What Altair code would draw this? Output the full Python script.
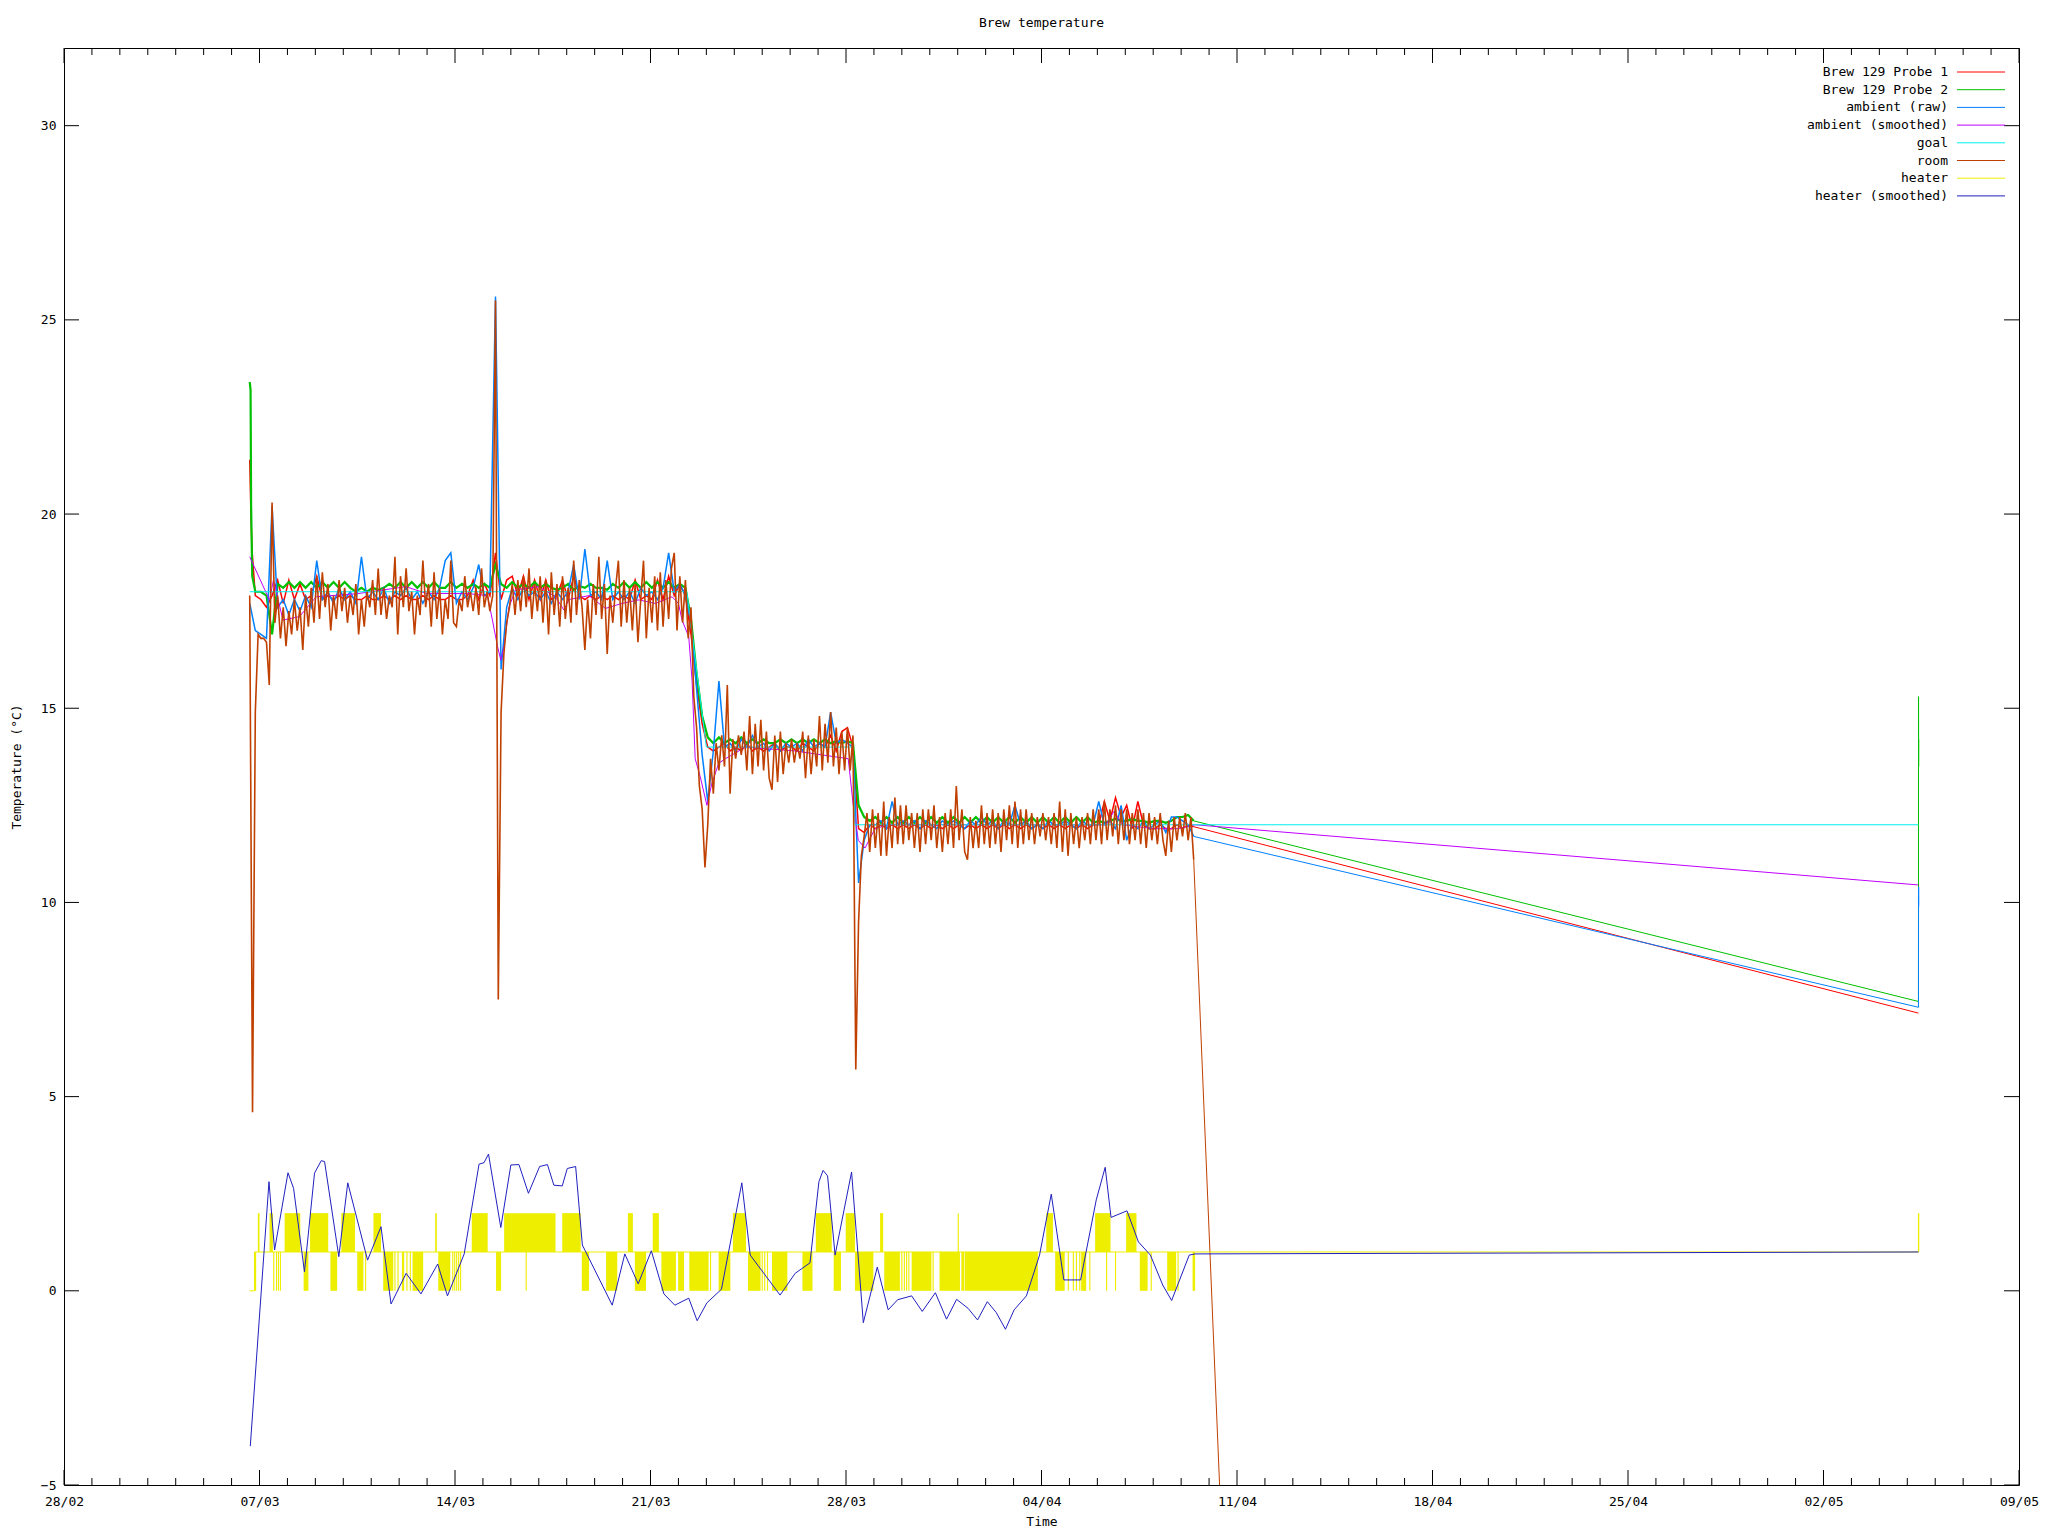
import altair as alt
import pandas as pd
import numpy as np

BASE = pd.Timestamp("2014-02-28")
W, H = 1955, 1437
FONT = "DejaVu Sans Mono"

# ---------------- data (day offsets from 28/02) ----------------
room_start, room_step = 6.65, 0.1
room_by_day = [
    [17.9, 4.6, 14.9, 16.9],
    [16.8, 16.8, 16.7, 15.6, 20.3, 17.2, 17.9, 16.8, 17.6, 16.6],
    [17.5, 16.9, 17.8, 17.0, 17.6, 16.5, 17.9, 17.1, 18.1, 17.2],
    [18.4, 17.3, 18.5, 17.6, 18.2, 17.0, 17.9, 17.3, 18.3, 17.5],
    [18.1, 17.2, 17.9, 17.4, 18.2, 16.9, 17.8, 17.1, 18.0, 17.6],
    [18.3, 17.4, 18.6, 17.4, 18.1, 17.3, 17.9, 17.6, 18.9, 16.9],
    [18.4, 17.6, 18.6, 17.5, 18.0, 16.9, 17.9, 17.4, 18.8, 17.6],
    [18.2, 17.1, 18.5, 17.3, 18.1, 16.9, 17.8, 17.3, 18.8, 17.2],
    [17.1, 17.8, 17.5, 18.4, 17.6, 18.0, 17.5, 18.1, 17.4, 18.6],
    [17.6, 18.0, 17.5, 17.9, 25.5, 7.5, 14.9, 16.4, 17.2, 17.6],
    [18.2, 17.4, 18.3, 17.5, 18.4, 17.6, 18.6, 17.3, 18.2, 17.5],
    [18.4, 17.2, 18.3, 16.9, 18.5, 17.4, 18.2, 17.1, 18.4, 17.3],
    [18.1, 17.2, 18.8, 17.4, 18.3, 17.6, 16.5, 17.8, 16.8, 18.2],
    [17.4, 18.9, 17.3, 18.2, 16.4, 17.9, 17.2, 18.1, 18.8, 17.1],
    [18.3, 17.2, 18.1, 17.0, 18.2, 16.7, 17.8, 18.8, 16.8, 18.1],
    [17.2, 18.4, 17.0, 18.5, 17.1, 18.3, 17.3, 18.6, 19.0, 17.0],
    [18.4, 17.2, 18.3, 16.8, 17.6, 15.3, 14.5, 13.0, 12.4, 10.9],
    [12.0, 13.7, 12.8, 14.1, 13.4, 14.3, 13.5, 15.6, 12.8, 14.2],
    [13.7, 14.3, 13.8, 14.4, 13.4, 14.8, 13.3, 14.6, 13.5, 14.7],
    [13.4, 14.4, 13.2, 12.9, 14.3, 13.1, 14.4, 13.3, 14.1, 13.6],
    [14.2, 13.6, 14.1, 13.7, 14.4, 13.2, 14.3, 13.3, 14.2, 13.5],
    [14.8, 13.4, 14.6, 13.6, 14.9, 13.5, 14.5, 13.3, 14.4, 13.4],
    [14.5, 13.4, 14.3, 5.7, 9.5, 11.2, 11.7, 12.3, 11.3, 12.4],
    [11.4, 12.3, 11.2, 12.6, 11.2, 12.2, 11.4, 12.7, 11.5, 12.5],
    [11.5, 12.5, 11.6, 12.3, 11.4, 12.3, 11.3, 12.4, 11.5, 12.4],
    [11.6, 12.5, 11.4, 12.2, 11.3, 12.3, 11.5, 12.4, 11.4, 13.0],
    [11.6, 12.4, 11.3, 11.1, 12.2, 11.4, 12.1, 11.4, 12.5, 11.5],
    [12.3, 11.4, 12.4, 11.5, 12.3, 11.3, 12.4, 11.6, 12.5, 11.5],
    [12.6, 11.4, 12.4, 11.5, 12.4, 11.6, 12.3, 11.5, 12.2, 11.7],
    [12.3, 11.6, 12.2, 11.5, 12.3, 11.4, 12.6, 11.3, 12.4, 11.2],
    [12.3, 11.5, 12.2, 11.4, 12.2, 11.6, 12.3, 11.5, 12.4, 11.6],
    [12.4, 11.5, 12.6, 11.6, 12.4, 11.7, 12.5, 11.5, 12.4, 11.6],
    [12.4, 11.5, 12.3, 11.6, 12.4, 11.5, 12.3, 11.4, 12.3, 11.6],
    [12.2, 11.5, 12.3, 11.6, 11.2, 12.1, 11.3, 12.2, 11.6, 12.2],
    [11.7, 12.3, 11.6, 12.2, 11.1],
]
room_tail_days = [66.4]
room_tail_vals = [-440.0]

# probes: a few head points, then a 0.2-day grid from 6.85
probe_start, probe_step = 6.85, 0.2
probe1_head_days = [6.65, 6.69, 6.73]
probe1_head_vals = [21.4, 20.1, 19.1]
probe1_by_day = [
    [17.9],
    [17.8, 17.6, 17.9, 18.3, 17.7],
    [18.3, 17.8, 18.2, 17.8, 17.9],
    [18.4, 17.8, 17.9, 17.8, 17.9],
    [17.8, 17.9, 17.8, 17.8, 17.9],
    [17.8, 17.8, 17.9, 17.8, 17.9],
    [17.8, 17.9, 17.8, 17.8, 17.9],
    [17.8, 17.9, 17.8, 17.8, 17.9],
    [17.8, 17.8, 17.9, 18.3, 17.8],
    [18.2, 17.9, 19.0, 17.8, 18.3],
    [18.4, 17.9, 18.4, 17.8, 18.3],
    [17.8, 18.3, 17.8, 17.9, 18.3],
    [17.8, 18.4, 17.9, 17.8, 17.9],
    [17.8, 17.9, 17.8, 17.9, 17.8],
    [17.9, 17.8, 18.3, 17.8, 17.9],
    [17.8, 18.3, 17.8, 18.4, 17.9],
    [18.2, 17.9, 16.9, 15.6, 14.6],
    [14.0, 13.9, 14.0, 14.1, 13.9],
    [14.0, 13.9, 14.1, 13.9, 14.0],
    [13.9, 14.0, 14.1, 13.9, 14.0],
    [14.0, 13.9, 14.1, 14.0, 13.9],
    [14.1, 14.0, 14.3, 13.9, 14.4],
    [14.5, 14.0, 11.9, 11.8, 12.0],
    [11.9, 12.0, 11.9, 12.0, 11.9],
    [12.0, 11.9, 12.0, 11.9, 12.0],
    [11.9, 12.0, 11.9, 12.0, 11.9],
    [12.0, 11.9, 12.0, 11.9, 12.0],
    [11.9, 12.0, 11.9, 12.0, 11.9],
    [12.0, 11.9, 12.0, 11.9, 12.0],
    [11.9, 12.0, 11.9, 12.0, 11.9],
    [12.0, 11.9, 12.0, 11.9, 12.0],
    [12.0, 12.6, 12.1, 12.7, 12.2],
    [12.5, 11.9, 12.6, 12.0, 11.9],
    [11.9, 12.0, 11.9, 11.9, 12.0],
    [11.9, 12.0, 11.95],
]
probe1_tail_days = [66.4]
probe1_tail_vals = [7.15]

probe2_head_days = [6.65, 6.68, 6.70, 6.74]
probe2_head_vals = [23.4, 23.2, 20.2, 18.4]
probe2_by_day = [
    [18.0],
    [18.0, 17.9, 16.9, 18.2, 18.1],
    [18.25, 18.1, 18.25, 18.1, 18.25],
    [18.1, 18.25, 18.1, 18.25, 18.1],
    [18.25, 18.1, 18.0, 18.1, 18.0],
    [18.1, 18.05, 18.1, 18.2, 18.1],
    [18.25, 18.1, 18.25, 18.1, 18.25],
    [18.1, 18.25, 18.1, 18.1, 18.25],
    [18.1, 18.2, 18.1, 18.2, 18.1],
    [18.2, 18.1, 18.7, 18.2, 18.1],
    [18.25, 18.1, 18.2, 18.1, 18.25],
    [18.1, 18.2, 18.1, 18.05, 18.1],
    [18.2, 18.05, 18.15, 18.1, 18.2],
    [18.1, 18.1, 18.05, 18.2, 18.1],
    [18.25, 18.1, 18.25, 18.1, 18.25],
    [18.1, 18.25, 18.1, 18.25, 18.1],
    [18.2, 18.1, 17.3, 15.9, 14.8],
    [14.25, 14.1, 14.25, 14.1, 14.2],
    [14.1, 14.25, 14.1, 14.2, 14.1],
    [14.2, 14.1, 14.1, 14.2, 14.1],
    [14.2, 14.1, 14.2, 14.1, 14.2],
    [14.1, 14.2, 14.1, 14.15, 14.1],
    [14.15, 14.1, 12.5, 12.2, 12.1],
    [12.2, 12.05, 12.2, 12.05, 12.2],
    [12.05, 12.2, 12.05, 12.2, 12.05],
    [12.2, 12.05, 12.2, 12.05, 12.2],
    [12.05, 12.2, 12.05, 12.2, 12.05],
    [12.2, 12.05, 12.2, 12.05, 12.2],
    [12.05, 12.2, 12.05, 12.2, 12.05],
    [12.2, 12.05, 12.2, 12.05, 12.2],
    [12.05, 12.2, 12.05, 12.2, 12.05],
    [12.1, 12.05, 12.1, 12.15, 12.1],
    [12.1, 12.15, 12.1, 12.1, 12.05],
    [12.1, 12.1, 12.05, 12.1, 12.2],
    [12.2, 12.25, 12.1],
]
probe2_tail_days = [66.4, 66.403, 66.406, 66.41]
probe2_tail_vals = [7.45, 15.3, 13.5, 14.2]

amb_start, amb_step = 6.65, 0.2
amb_by_day = [
    [17.7, 17.0],
    [16.9, 16.8, 20.2, 17.6, 17.8],
    [17.4, 17.8, 17.5, 17.9, 17.6],
    [18.8, 17.8, 18.0, 17.7, 18.1],
    [17.8, 18.0, 17.7, 18.9, 17.8],
    [18.0, 17.8, 18.1, 17.7, 18.0],
    [17.9, 18.1, 17.8, 18.0, 17.7],
    [18.0, 17.8, 18.1, 18.8, 19.0],
    [17.7, 18.0, 17.8, 18.1, 18.7],
    [17.9, 18.0, 25.6, 16.0, 17.6],
    [18.1, 17.8, 18.1, 17.9, 18.0],
    [17.8, 18.0, 17.7, 18.0, 17.8],
    [18.0, 18.7, 17.8, 19.1, 17.9],
    [18.0, 17.8, 18.8, 17.8, 18.0],
    [17.8, 18.0, 17.7, 18.1, 17.9],
    [18.0, 17.8, 18.1, 19.0, 18.0],
    [18.2, 17.9, 17.2, 15.5, 13.8],
    [12.6, 13.9, 15.7, 14.0, 14.1],
    [13.9, 14.2, 14.0, 14.3, 14.0],
    [14.1, 13.9, 14.1, 13.9, 14.1],
    [14.0, 14.1, 13.9, 14.2, 14.0],
    [14.1, 14.0, 14.9, 14.1, 14.2],
    [14.1, 14.0, 10.5, 11.6, 12.0],
    [12.0, 12.1, 11.9, 12.6, 12.0],
    [12.1, 12.0, 12.1, 11.9, 12.1],
    [12.0, 11.9, 12.1, 12.0, 12.1],
    [12.0, 11.9, 12.1, 12.0, 12.2],
    [12.0, 12.1, 11.9, 12.1, 12.0],
    [12.5, 12.0, 12.1, 11.9, 12.0],
    [11.9, 12.1, 12.0, 12.0, 12.1],
    [12.0, 11.9, 12.1, 12.0, 12.0],
    [12.6, 12.0, 12.1, 11.9, 12.5],
    [11.6, 12.0, 11.9, 12.1, 11.9],
    [12.0, 12.1, 11.8, 12.2, 12.2],
    [12.1, 12.0, 11.7],
]
amb_tail_days = [66.4, 66.403, 66.406, 66.41]
amb_tail_vals = [7.3, 9.5, 10.4, 9.9]

smooth_days = [6.65, 7.36, 7.5, 7.84, 8.43, 9.03, 10.5, 12.24, 12.96, 14.5, 15.16, 15.34, 15.52,
               15.64, 15.76, 15.93, 16.17, 17.0, 17.6, 17.9, 18.08, 18.8, 19.15, 19.39, 19.98,
               20.58, 21.17, 21.77, 22.0, 22.13, 22.37, 22.49, 22.6, 22.78, 23.02, 23.2, 23.44,
               23.68, 24.4, 26.18, 28.08, 28.26, 28.44, 28.68, 29.04, 29.5, 37.3, 37.6, 37.9,
               39.0, 39.9, 40.5, 66.4]
smooth_vals = [18.9, 17.78, 18.3, 17.27, 17.36, 17.87, 17.95, 18.13, 17.96, 17.95, 17.9, 17.27, 16.6,
               16.24, 16.6, 17.6, 18.05, 18.13, 17.87, 17.53, 17.8, 17.9, 17.7, 17.57, 17.7,
               17.79, 17.7, 17.87, 17.7, 17.27, 16.84, 15.7, 13.7, 13.24, 12.5, 13.07, 13.58,
               13.7, 14.0, 13.9, 13.7, 12.5, 11.6, 11.4, 11.9, 12.0, 12.0, 12.35, 12.0,
               11.9, 11.9, 12.0, 10.45]

goal_days = [6.65, 22.3, 23.0, 28.25, 28.32, 66.4]
goal_vals = [18.0, 18.0, 14.0, 14.0, 12.0, 12.0]

heat_line_days = [6.64, 6.82, 6.82, 40.5, 66.4]
heat_line_vals = [0, 0, 1, 1, 1]

heat_t0 = [6.94, 7.36, 7.9, 8.81, 9.93, 11.08, 13.29, 14.6, 15.76, 17.84, 20.19, 21.08, 23.95,
           26.92, 27.99, 29.22, 32.0, 35.17, 36.92, 38.03, 66.38,
           6.82, 7.49, 7.59, 7.66, 7.73, 8.58, 9.54, 10.5, 10.78, 11.43, 11.83, 11.94, 12.1,
           12.26, 12.38, 12.48, 13.4, 13.9, 13.97, 14.04, 14.11, 14.18, 15.47, 16.53, 18.54,
           19.41, 20.44, 21.39, 21.99, 22.39, 23.13, 23.44, 24.49, 24.98, 25.07, 25.17, 25.35,
           26.44, 27.56, 28.32, 29.37, 29.98, 30.07, 30.15, 30.23, 30.35, 31.1, 31.35, 32.13,
           32.25, 35.49, 35.94, 36.12, 36.23, 36.35, 36.42, 36.71, 37.31, 37.63, 38.52, 38.91,
           39.5, 39.87, 40.41]
heat_t1 = [7.0, 7.48, 8.46, 9.46, 10.42, 11.35, 13.35, 15.17, 17.6, 18.5, 20.37, 21.3, 24.42,
           27.49, 28.32, 29.33, 32.04, 35.41, 37.47, 38.4, 66.43,
           6.88, 7.53, 7.63, 7.7, 7.77, 8.75, 9.78, 10.72, 10.82, 11.79, 11.87, 11.98, 12.18,
           12.3, 12.42, 12.86, 13.83, 13.94, 14.01, 14.08, 14.15, 14.22, 15.65, 16.57, 18.8,
           19.81, 20.84, 21.91, 22.2, 23.08, 23.17, 23.86, 24.94, 25.02, 25.11, 25.21, 25.9,
           26.8, 27.82, 28.98, 29.93, 30.02, 30.11, 30.19, 30.27, 31.06, 31.14, 32.08, 32.23,
           34.87, 35.83, 35.98, 36.16, 36.27, 36.39, 36.6, 36.75, 37.35, 37.67, 38.8, 38.95,
           39.82, 39.91, 40.5]
heat_lo = [1] * 21 + [0] * 64

hsm_days = [6.67, 7.34, 7.54, 8.02, 8.22, 8.61, 8.97, 9.21, 9.33, 9.84, 10.16, 10.87, 11.35, 11.71,
            12.25, 12.78, 13.38, 13.73, 14.33, 14.86, 15.04, 15.2, 15.64, 16.0, 16.29, 16.63,
            17.03, 17.31, 17.54, 17.84, 18.02, 18.32, 18.56, 19.63, 20.08, 20.56, 21.03, 21.48,
            21.87, 22.37, 22.67, 23.02, 23.54, 24.27, 24.57, 25.64, 26.18, 26.71, 27.03, 27.18,
            27.34, 27.61, 28.2, 28.62, 29.12, 29.51, 29.85, 30.35, 30.73, 31.2, 31.6, 31.96,
            32.37, 32.71, 33.06, 33.38, 33.71, 34.02, 34.46, 34.93, 35.35, 35.8, 36.4, 36.96,
            37.28, 37.49, 38.06, 38.47, 38.9, 39.34, 39.66, 40.29, 40.5, 66.4]
hsm_vals = [-4.0, 2.81, 1.05, 3.04, 2.64, 0.49, 3.03, 3.35, 3.33, 0.88, 2.78, 0.79, 1.65, -0.34,
            0.45, -0.08, 0.69, -0.13, 0.95, 3.26, 3.3, 3.52, 1.63, 3.24, 3.25, 2.51,
            3.2, 3.25, 2.72, 2.7, 3.15, 3.2, 1.18, -0.37, 0.95, 0.18, 1.03, -0.08,
            -0.37, -0.19, -0.77, -0.31, 0.04, 2.78, 0.92, -0.11, 0.45, 0.72, 2.81, 3.1,
            2.96, 0.92, 3.06, -0.82, 0.61, -0.49, -0.23, -0.13, -0.53, -0.05, -0.73, -0.22,
            -0.45, -0.75, -0.28, -0.56, -0.99, -0.49, -0.13, 0.92, 2.49, 0.28, 0.28, 2.34,
            3.18, 1.89, 2.06, 1.26, 0.92, 0.15, -0.25, 0.92, 0.95, 1.0]

series_names = ["Brew 129 Probe 1", "Brew 129 Probe 2", "ambient (raw)", "ambient (smoothed)",
                "goal", "room", "heater", "heater (smoothed)"]
series_colors = ["#ff0000", "#00c000", "#0080ff", "#c000ff", "#00eeee", "#c04000", "#eeee00", "#2020c0"]

x_major_days = list(range(0, 71, 7))
x_minor_days = [d for d in range(71) if d % 7]
y_major = [-5, 0, 5, 10, 15, 20, 25, 30]


# ---------------- helpers ----------------
def tstamp(days):
    return [BASE + pd.Timedelta(days=float(d)) for d in days]


def flat(by_day):
    return [v for day in by_day for v in day]


def grid_df(start, step, by_day, head_days=(), head_vals=()):
    vals = flat(by_day)
    days = [round(start + step * i, 4) for i in range(len(vals))]
    return pd.DataFrame({"t": tstamp(list(head_days) + days), "v": list(head_vals) + vals})


def pts_df(days, vals):
    return pd.DataFrame({"t": tstamp(days), "v": vals})


def dt(d):
    ts = BASE + pd.Timedelta(days=d)
    return alt.DateTime(year=int(ts.year), month=int(ts.month), date=int(ts.day))


x_scale = alt.Scale(domain=[dt(0), dt(70)], nice=False)
y_scale = alt.Scale(domain=[-5, 32], nice=False, zero=False)
x_axis = alt.Axis(values=[dt(d) for d in x_major_days], format="%d/%m", ticks=False, domain=False,
                  grid=False, labelPadding=10, labelFlush=False, labelOverlap=False,
                  title="Time", titlePadding=7)
y_axis = alt.Axis(values=y_major, ticks=False, domain=False, grid=False, labelPadding=8,
                  labelFlush=False, title="Temperature (°C)", titlePadding=17)


def X(field="t"):
    return alt.X(f"{field}:T", scale=x_scale, axis=x_axis)


def Y(field="v"):
    return alt.Y(f"{field}:Q", scale=y_scale, axis=y_axis)


def line(df, color, width=1.0):
    return alt.Chart(df).mark_line(color=color, strokeWidth=width, clip=True, interpolate="linear").encode(
        x=X(), y=Y())


def noisy(df, tail_days, tail_vals, color, width):
    tail = pd.concat([df.tail(1), pts_df(tail_days, tail_vals)], ignore_index=True)
    return [line(df, color, width), line(tail, color, 1.0)]


layers = []
layers += noisy(grid_df(probe_start, probe_step, probe1_by_day, probe1_head_days, probe1_head_vals),
                probe1_tail_days, probe1_tail_vals, series_colors[0], 1.5)
layers += noisy(grid_df(probe_start, probe_step, probe2_by_day, probe2_head_days, probe2_head_vals),
                probe2_tail_days, probe2_tail_vals, series_colors[1], 2.2)
layers += noisy(grid_df(amb_start, amb_step, amb_by_day),
                amb_tail_days, amb_tail_vals, series_colors[2], 1.5)
layers.append(line(pts_df(smooth_days, smooth_vals), series_colors[3]))
layers.append(line(pts_df(goal_days, goal_vals), series_colors[4]))
layers += noisy(grid_df(room_start, room_step, room_by_day),
                room_tail_days, room_tail_vals, series_colors[5], 1.6)
layers.append(line(pts_df(heat_line_days, heat_line_vals), series_colors[6]))

heat_df = pd.DataFrame({"t": tstamp(heat_t0), "t1": tstamp(heat_t1), "v": heat_lo,
                        "v2": [lo + 1 for lo in heat_lo]})
layers.append(alt.Chart(heat_df).mark_rect(color=series_colors[6], clip=True).encode(
    x=X(), x2=alt.X2("t1:T"), y=Y(), y2=alt.Y2("v2:Q")))
layers.append(line(pts_df(hsm_days, hsm_vals), series_colors[7]))

# inward ticks (gnuplot style)
maj_df = pd.DataFrame({"t": tstamp(x_major_days)})
min_df = pd.DataFrame({"t": tstamp(x_minor_days)})
ymaj_df = pd.DataFrame({"v": y_major})
tick = dict(color="black", strokeWidth=1)
layers += [
    alt.Chart(maj_df).mark_rule(**tick).encode(x=X(), y=alt.value(H), y2=alt.value(H - 15)),
    alt.Chart(min_df).mark_rule(**tick).encode(x=X(), y=alt.value(H), y2=alt.value(H - 7)),
    alt.Chart(maj_df).mark_rule(**tick).encode(x=X(), y=alt.value(0), y2=alt.value(15)),
    alt.Chart(min_df).mark_rule(**tick).encode(x=X(), y=alt.value(0), y2=alt.value(7)),
    alt.Chart(ymaj_df).mark_rule(**tick).encode(y=Y(), x=alt.value(0), x2=alt.value(15)),
    alt.Chart(ymaj_df).mark_rule(**tick).encode(y=Y(), x=alt.value(W - 15), x2=alt.value(W)),
]

# legend (top-right, label then line sample)
for i, (name, col) in enumerate(zip(series_names, series_colors)):
    ypos = 24 + 17.7 * i
    ldf = pd.DataFrame({"name": [name]})
    layers.append(alt.Chart(ldf).mark_text(align="right", baseline="middle", font=FONT, fontSize=13,
                                           color="black").encode(
        text="name:N", x=alt.value(W - 71), y=alt.value(ypos)))
    layers.append(alt.Chart(ldf).mark_rule(color=col, strokeWidth=1).encode(
        x=alt.value(W - 62), x2=alt.value(W - 14), y=alt.value(ypos)))

chart = alt.layer(*layers).properties(
    width=W, height=H,
    title=alt.TitleParams("Brew temperature", font=FONT, fontSize=13, fontWeight="normal",
                          anchor="middle", offset=18, color="black"),
    padding={"left": 56, "top": 40, "right": 21, "bottom": 43},
    autosize="none",
).configure_view(stroke="black", strokeWidth=1).configure_axis(
    labelFont=FONT, labelFontSize=13, labelColor="black",
    titleFont=FONT, titleFontSize=13, titleFontWeight="normal", titleColor="black",
)

chart.save("out.html", embed_options={"renderer": "svg", "actions": False})
